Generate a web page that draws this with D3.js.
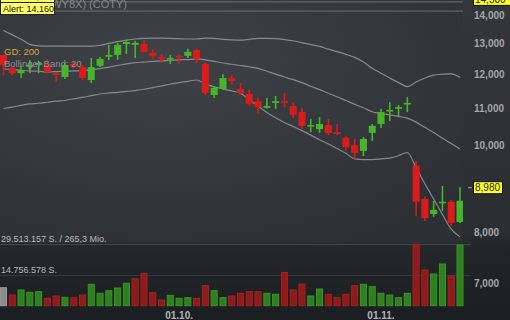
<!DOCTYPE html>
<html>
<head>
<meta charset="utf-8">
<script src="https://cdn.jsdelivr.net/npm/d3@7"></script>
<style>
html, body { margin: 0; padding: 0; background: #2b2f33; }
svg { display: block; font-family: "Liberation Sans", Arial, sans-serif; }
</style>
</head>
<body>
<svg id="chart" width="510" height="320"></svg>
<script>
// trading days shown
const dates = [
  "2018-09-03","2018-09-04","2018-09-05","2018-09-06","2018-09-07","2018-09-10","2018-09-11","2018-09-12","2018-09-13","2018-09-14",
  "2018-09-17","2018-09-18","2018-09-19","2018-09-20","2018-09-21","2018-09-24","2018-09-25","2018-09-26","2018-09-27","2018-09-28",
  "2018-10-01","2018-10-02","2018-10-03","2018-10-04","2018-10-05","2018-10-08","2018-10-09","2018-10-10","2018-10-11","2018-10-12",
  "2018-10-15","2018-10-16","2018-10-17","2018-10-18","2018-10-19","2018-10-22","2018-10-23","2018-10-24","2018-10-25","2018-10-26",
  "2018-10-29","2018-10-30","2018-10-31","2018-11-01","2018-11-02","2018-11-05","2018-11-06","2018-11-07","2018-11-08","2018-11-09",
  "2018-11-12","2018-11-13","2018-11-14"
]
const open = [12.63,12.21,12.05,12.25,12.31,12.31,12.05,11.93,12.34,12.24, 11.84,12.28,12.57,12.63,12.99,12.96,12.99,12.70,12.57,12.50,
  12.60,12.60,12.79,12.34,11.39,11.57,11.90,11.57,11.42,11.21, 11.02,11.16,11.21,11.07,10.90,10.52,10.43,10.54,10.35,10.20,
  10.01,9.86,10.33,10.57,10.93,10.99,11.13,9.49,8.71,8.38, 8.62,8.65,8.21]
const high = [12.63,12.24,12.28,12.47,12.44,12.50,12.09,12.37,12.40,12.31, 12.53,12.56,12.96,13.03,13.13,13.10,13.13,12.83,12.66,12.63,
  12.63,12.83,12.83,12.40,11.66,12.02,11.99,11.75,11.54,11.30, 11.30,11.36,11.45,11.18,11.02,10.71,10.76,10.71,10.57,10.24,
  10.17,10.22,10.57,10.99,11.18,11.10,11.33,9.61,8.76,8.67, 9.01,8.69,8.98]
const low = [11.99,11.99,11.90,12.05,12.05,12.05,11.78,11.87,12.21,11.84, 11.75,12.24,12.47,12.47,12.66,12.53,12.70,12.50,12.37,12.34,
  12.34,12.53,12.37,11.39,11.30,11.54,11.69,11.39,11.07,10.85, 10.99,10.99,11.04,10.74,10.43,10.35,10.33,10.27,10.27,9.86,
  9.66,9.73,10.12,10.46,10.65,10.79,10.90,8.34,8.23,8.32, 8.45,8.13,8.19]
const close = [12.31,12.05,12.15,12.31,12.37,12.09,11.99,12.31,12.28,11.90, 12.24,12.50,12.63,12.96,13.06,13.03,12.73,12.60,12.50,12.53,
  12.57,12.73,12.50,11.45,11.60,11.90,11.81,11.45,11.13,11.04, 11.07,11.21,11.18,10.82,10.52,10.54,10.57,10.33,10.30,9.96,
  9.81,10.17,10.52,10.90,10.96,11.04,11.16,8.65,8.29,8.47, 8.65,8.19,8.67]
// volume in million shares
const volume = [8.65,5.14,7.55,6.44,6.73,3.56,4.66,4.04,3.85,5.14, 10.29,5.96,7.21,8.51,10.77,12.98,15.57,6.25,2.74,5.00,
  3.56,3.85,3.56,9.61,7.21,3.85,4.66,5.96,6.73,6.73, 5.96,5.48,16.05,7.55,10.43,4.66,8.03,5.48,4.04,5.48,
  9.61,10.29,9.13,5.96,5.14,3.85,5.96,29.513157,17.16,15.24, 20.05,14.28,29.18]
// Bollinger band (20)
const bbUpper = [13.45,13.30,13.15,12.98,12.93,12.92,12.92,12.92,12.92,12.92, 12.92,12.95,13.01,13.07,13.12,13.16,13.18,13.19,13.19,13.18,
  13.17,13.16,13.16,13.19,13.18,13.15,13.13,13.12,13.15,13.18, 13.18,13.17,13.14,13.10,13.04,12.97,12.91,12.82,12.74,12.65,
  12.55,12.40,12.20,12.05,11.90,11.76,11.64,11.78,11.90,11.99, 12.02,12.03,11.92]
const bbMid = [12.18,12.16,12.14,12.12,12.11,12.09,12.10,12.11,12.12,12.13, 12.15,12.19,12.24,12.29,12.34,12.38,12.40,12.42,12.44,12.45,
  12.47,12.48,12.50,12.47,12.42,12.37,12.33,12.29,12.25,12.20, 12.11,12.02,11.93,11.85,11.76,11.65,11.55,11.44,11.34,11.23,
  11.12,11.02,10.91,10.86,10.82,10.78,10.73,10.62,10.48,10.34, 10.19,10.05,9.91]
const bbLower = [11.00,11.04,11.09,11.13,11.15,11.18,11.21,11.23,11.28,11.32, 11.37,11.42,11.45,11.47,11.50,11.52,11.56,11.61,11.66,11.71,
  11.76,11.80,11.84,11.72,11.63,11.57,11.51,11.44,11.25,11.07, 10.89,10.74,10.61,10.50,10.39,10.27,10.15,10.04,9.92,9.80,
  9.66,9.64,9.64,9.66,9.68,9.74,9.82,9.44,9.06,8.71, 8.37,8.06,7.90]

const priceTicks = [7, 8, 10, 11, 12, 13, 14]
const alerts = [14.16, 14.50]
const lastPrice = 8.98
const turnoverMio = 265.3

const W = 510, H = 320
const plotR = 463
const priceBot = 243

const loc = d3.formatLocale({decimal: ",", thousands: ".", grouping: [3], currency: ["", " €"]})
const fmtPrice = loc.format(",.3f")
const fmtInt = loc.format(",d")
const fmtMio = loc.format(",.1f")
const parse = d3.timeParse("%Y-%m-%d")
const fmtDate = d3.timeFormat("%d.%m.")

const svg = d3.select("#chart")
const defs = svg.append("defs")

const bgAll = defs.append("linearGradient").attr("id", "bgAll").attr("x1", 0).attr("y1", 0).attr("x2", 0).attr("y2", 1)
bgAll.append("stop").attr("offset", "0%").attr("stop-color", "#33373b")
bgAll.append("stop").attr("offset", "72%").attr("stop-color", "#2a2e31")
bgAll.append("stop").attr("offset", "78%").attr("stop-color", "#222528")
bgAll.append("stop").attr("offset", "100%").attr("stop-color", "#1c1f22")

const bgPlot = defs.append("radialGradient").attr("id", "bgPlot")
  .attr("cx", "35%").attr("cy", "25%").attr("r", "85%")
bgPlot.append("stop").attr("offset", "0%").attr("stop-color", "#3e4246")
bgPlot.append("stop").attr("offset", "100%").attr("stop-color", "#2c3034")

const bgVol = defs.append("linearGradient").attr("id", "bgVol").attr("x1", 0).attr("y1", 0).attr("x2", 0).attr("y2", 1)
bgVol.append("stop").attr("offset", "0%").attr("stop-color", "#24272b")
bgVol.append("stop").attr("offset", "100%").attr("stop-color", "#1b1e21")

defs.append("clipPath").attr("id", "clipPlot")
  .append("rect").attr("x", 0).attr("y", 0).attr("width", plotR).attr("height", priceBot)

svg.append("rect").attr("width", W).attr("height", H).attr("fill", "url(#bgAll)")
svg.append("rect").attr("width", plotR).attr("height", priceBot).attr("fill", "url(#bgPlot)")
svg.append("rect").attr("y", priceBot).attr("width", plotR).attr("height", H - priceBot).attr("fill", "url(#bgVol)")

// scales
const x = d3.scaleBand().domain(dates).range([-0.9, 464.4]).paddingInner(0.2).paddingOuter(0.1)
const xc = i => x(dates[i]) + x.bandwidth() / 2
const y = d3.scaleLog().domain([8, 14]).range([232, 15])
const volMax = d3.max(volume)
const yv = d3.scaleLinear().domain([0, volMax]).range([305.7, 244.3])

// volume grid + labels
const volGrid = [volMax, volMax / 2]
svg.append("g").selectAll("line").data(volGrid).join("line")
  .attr("x1", 0).attr("x2", plotR + 8)
  .attr("y1", d => Math.round(yv(d)) + 0.5).attr("y2", d => Math.round(yv(d)) + 0.5)
  .attr("stroke", (d, i) => i === 0 ? "#44484c" : "#34383c").attr("stroke-width", 1)
svg.append("g").selectAll("text").data(volGrid).join("text")
  .attr("x", 1).attr("y", d => yv(d) - 2.5)
  .attr("font-size", 9).attr("fill", "#b6babe")
  .text((d, i) => fmtInt(Math.floor(d * 1e6)) + " S." + (i === 0 ? " / " + fmtMio(turnoverMio) + " Mio." : ""))

// volume bars
const idx = d3.range(dates.length)
const volColor = i => i === 0 ? ["#8a8a8a", "#9a9a9a"] : close[i] >= close[i - 1] ? ["#2e7f1d", "#3a9526"] : ["#8f1a1a", "#a52222"]
svg.append("g").selectAll("rect").data(idx).join("rect")
  .attr("x", i => x(dates[i]) + 0.5)
  .attr("y", i => yv(volume[i]))
  .attr("width", x.bandwidth() - 1)
  .attr("height", i => yv(0) - yv(volume[i]))
  .attr("fill", i => volColor(i)[0])
  .attr("stroke", i => volColor(i)[1])
  .attr("stroke-width", 1)

const plot = svg.append("g").attr("clip-path", "url(#clipPlot)")

// alert lines
plot.selectAll("line.alert").data(alerts).join("line").attr("class", "alert")
  .attr("x1", 0).attr("x2", plotR)
  .attr("y1", d => y(d) + 0.5).attr("y2", d => y(d) + 0.5)
  .attr("stroke", "#6c7074").attr("stroke-width", 1)

// legend texts
svg.append("text").attr("x", 4).attr("y", 55).attr("font-size", 9.5).attr("fill", "#d0a832").text("GD: 200")
svg.append("text").attr("x", 4).attr("y", 67).attr("font-size", 9.5).attr("fill", "#8c9094").text("Bollinger Band: 20")

// Bollinger bands
const bandLine = d3.line().x((d, i) => xc(i)).y(d => y(d)).curve(d3.curveMonotoneX)
plot.selectAll("path.bb").data([bbUpper, bbMid, bbLower]).join("path").attr("class", "bb")
  .attr("d", bandLine)
  .attr("fill", "none").attr("stroke", "#868a8e").attr("stroke-width", 1.2)

// candles
const up = "#46b52a", down = "#dc1a1a"
const cg = plot.selectAll("g.candle").data(idx).join("g").attr("class", "candle")
cg.append("line")
  .attr("x1", i => xc(i)).attr("x2", i => xc(i))
  .attr("y1", i => y(high[i])).attr("y2", i => y(low[i]))
  .attr("stroke", i => close[i] >= open[i] ? up : down).attr("stroke-width", 1.6)
cg.append("rect")
  .attr("x", i => x(dates[i]))
  .attr("width", x.bandwidth())
  .attr("y", i => y(Math.max(open[i], close[i])))
  .attr("height", i => Math.max(1.6, y(Math.min(open[i], close[i])) - y(Math.max(open[i], close[i]))))
  .attr("fill", i => close[i] >= open[i] ? up : down)

// price axis
const yAxis = svg.append("g").attr("transform", "translate(474,0)")
  .call(d3.axisRight(y).tickValues(priceTicks).tickSize(0).tickPadding(0).tickFormat(fmtPrice))
yAxis.select(".domain").remove()
yAxis.selectAll("text").attr("font-size", 10).attr("font-weight", "bold").attr("fill", "#a3a7ab")
  .attr("font-family", "Liberation Sans, Arial, sans-serif")

// date axis
const monthStarts = dates.filter((d, i) => i > 0 && d.slice(5, 7) !== dates[i - 1].slice(5, 7))
const xAxis = svg.append("g").attr("transform", "translate(0,308)")
  .call(d3.axisBottom(x).tickValues(monthStarts).tickSize(0).tickPadding(3.5).tickFormat(d => fmtDate(parse(d))))
xAxis.select(".domain").remove()
xAxis.selectAll("text").attr("font-size", 10).attr("font-weight", "bold").attr("fill", "#b1b5b9")
  .attr("font-family", "Liberation Sans, Arial, sans-serif")

// last price label
const yl = y(lastPrice)
svg.append("line").attr("x1", 468).attr("x2", 472).attr("y1", yl + 0.5).attr("y2", yl + 0.5).attr("stroke", "#a3a7ab")
svg.append("rect").attr("x", 473.5).attr("y", yl - 5.5).attr("width", 29).attr("height", 12)
  .attr("fill", "#ffff22").attr("stroke", "#111").attr("stroke-width", 1)
svg.append("text").attr("x", 475).attr("y", yl + 4).attr("font-size", 10).attr("fill", "#222").text(fmtPrice(lastPrice))

// top right alert label (cut off)
svg.append("rect").attr("x", 473.5).attr("y", y(alerts[1]) - 8).attr("width", 40).attr("height", 12)
  .attr("fill", "#ffff22").attr("stroke", "#111")
svg.append("text").attr("x", 475).attr("y", y(alerts[1]) + 1.5).attr("font-size", 10).attr("fill", "#222").text(fmtPrice(alerts[1]))

// title
svg.append("text").attr("x", 127).attr("y", 7.5).attr("text-anchor", "end")
  .attr("font-size", 11).attr("fill", "#85898d").text("Coty Inc. (A1WY8X) (COTY)")

// alert boxes at top left
const boxes = [{a: alerts[1], top: -9.5}, {a: alerts[0], top: 2.5}]
const bx = svg.append("g").selectAll("g").data(boxes).join("g")
bx.append("rect").attr("x", 0.5).attr("y", d => d.top).attr("width", 54).attr("height", 12)
  .attr("fill", "#ffff66").attr("stroke", "#222").attr("stroke-width", 1)
bx.append("text").attr("x", 3).attr("y", d => d.top + 9.5).attr("font-size", 9).attr("fill", "#111")
  .text(d => "Alert: " + fmtPrice(d.a))
</script>
</body>
</html>
